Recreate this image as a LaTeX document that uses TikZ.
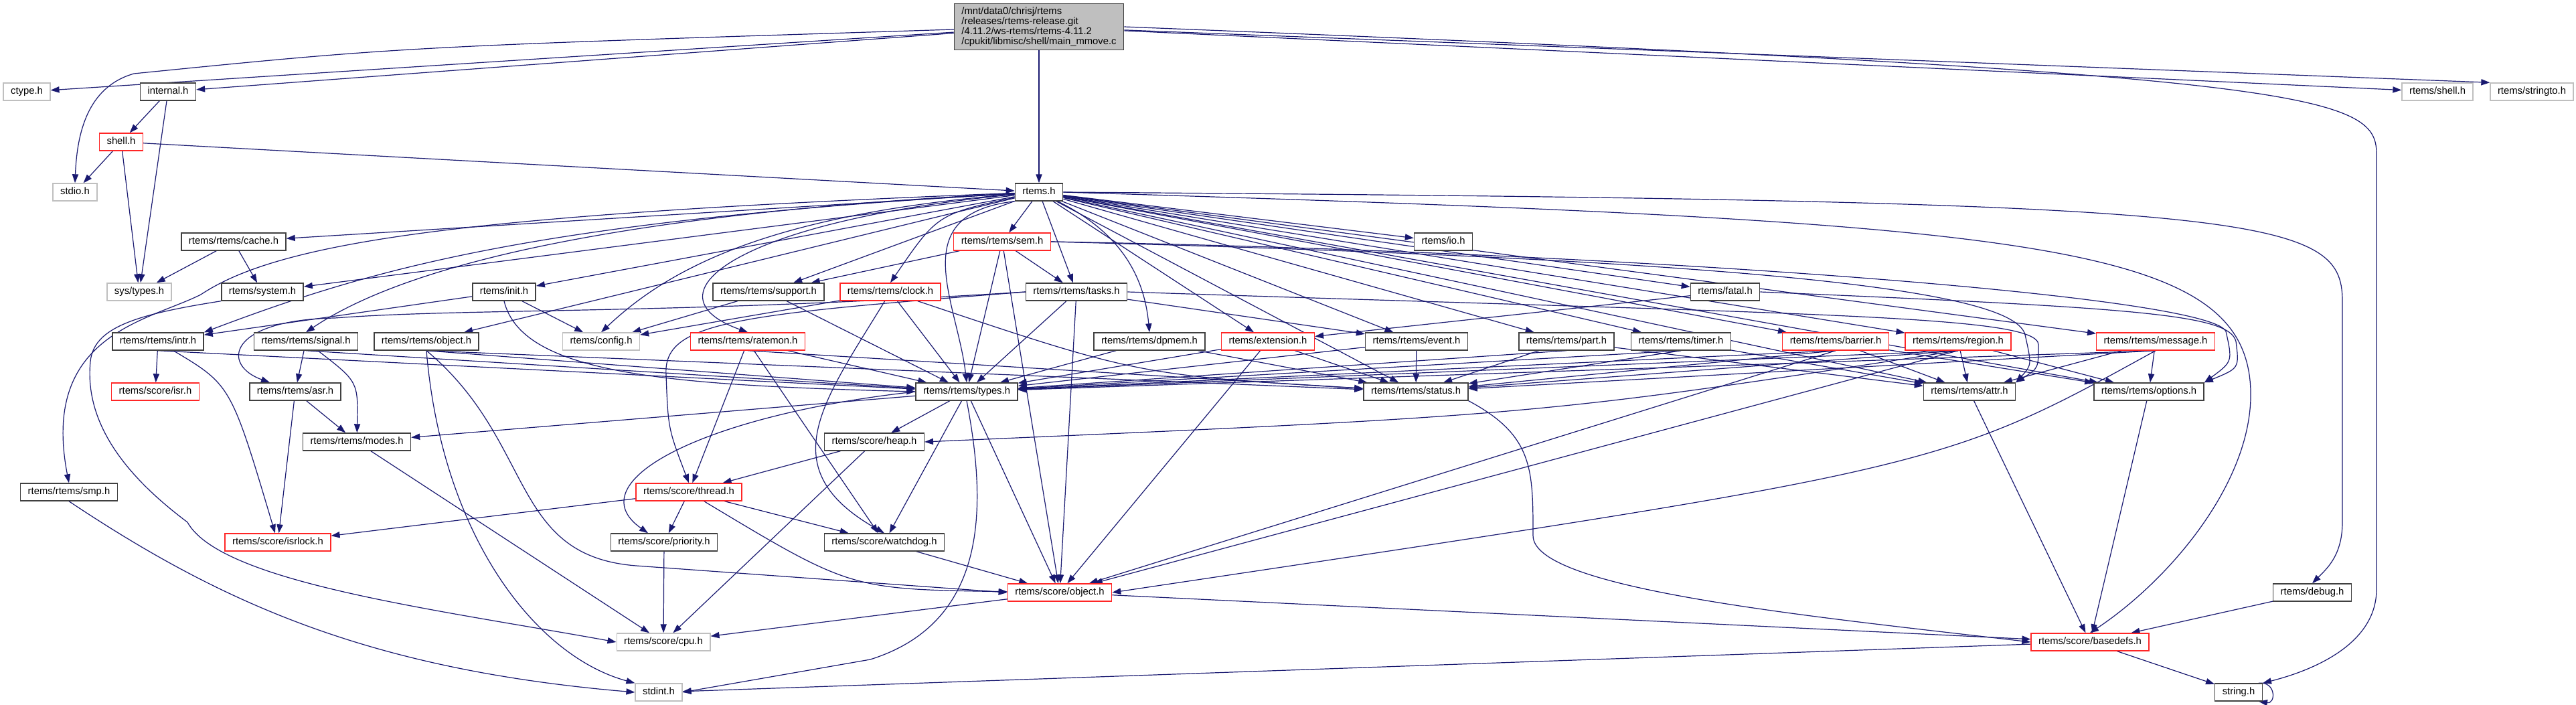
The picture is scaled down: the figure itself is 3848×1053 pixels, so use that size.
\documentclass[tikz,border=0pt]{standalone}
\usepackage{fontspec}
\setmainfont{Liberation Sans}
\usetikzlibrary{arrows.meta,backgrounds}
\definecolor{edgeblue}{HTML}{191970}
\definecolor{boxgray}{HTML}{BFBFBF}
\tikzset{
  hdr/.style={draw=black!75, fill=white, line width=0.7pt, inner xsep=5.5pt, inner ysep=0pt,
    minimum height=13pt, text height=5.4pt, text depth=1.5pt,
    font=\fontsize{7.4pt}{7.4pt}\selectfont},
  hdrred/.style={hdr, draw=red!85},
  hdrgray/.style={hdr, draw=boxgray},
  inc/.style={draw=edgeblue, line width=0.6pt, -{Triangle[length=6.5pt,width=4.6pt]}}
}
\begin{document}
\begin{tikzpicture}[x=0.5pt,y=-0.5pt]
\useasboundingbox (0,0) rectangle (3848,1053);
\node[hdr, fill=boxgray, align=left, text height=, text depth=, minimum width=124pt, minimum height=34.5pt] (main) at (1552,40) {/mnt/data0/chrisj/rtems\\/releases/rtems-release.git\\/4.11.2/ws-rtems/rtems-4.11.2\\/cpukit/libmisc/shell/main\_mmove.c};
\node[hdrgray] (ctype) at (40,137) {ctype.h};
\node[hdr] (internal) at (251,137) {internal.h};
\node[hdrgray] (shellh) at (3641,137) {rtems/shell.h};
\node[hdrgray] (stringto) at (3782,137) {rtems/stringto.h};
\node[hdrred] (shell) at (181,212) {shell.h};
\node[hdrgray] (stdio) at (112,287) {stdio.h};
\node[hdr] (rtems) at (1552,287) {rtems.h};
\node[hdr] (cache) at (349,361) {rtems/rtems/cache.h};
\node[hdrred] (sem) at (1497,361) {rtems/rtems/sem.h};
\node[hdr] (io) at (2156,361) {rtems/io.h};
\node[hdrgray] (systypes) at (208,436) {sys/types.h};
\node[hdr] (system) at (392,436) {rtems/system.h};
\node[hdr] (init) at (753,436) {rtems/init.h};
\node[hdr] (support) at (1148,436) {rtems/rtems/support.h};
\node[hdrred] (clock) at (1330,436) {rtems/rtems/clock.h};
\node[hdr] (tasks) at (1608,436) {rtems/rtems/tasks.h};
\node[hdr] (fatal) at (2577,436) {rtems/fatal.h};
\node[hdr] (intr) at (236,510) {rtems/rtems/intr.h};
\node[hdr] (signal) at (457,510) {rtems/rtems/signal.h};
\node[hdr] (objectr) at (637,510) {rtems/rtems/object.h};
\node[hdrgray] (config) at (898,510) {rtems/config.h};
\node[hdrred] (ratemon) at (1117,510) {rtems/rtems/ratemon.h};
\node[hdr] (dpmem) at (1717,510) {rtems/rtems/dpmem.h};
\node[hdrred] (extension) at (1894,510) {rtems/extension.h};
\node[hdr] (event) at (2116,510) {rtems/rtems/event.h};
\node[hdr] (part) at (2340,510) {rtems/rtems/part.h};
\node[hdr] (timer) at (2511,510) {rtems/rtems/timer.h};
\node[hdrred] (barrier) at (2742,510) {rtems/rtems/barrier.h};
\node[hdrred] (region) at (2925,510) {rtems/rtems/region.h};
\node[hdrred] (message) at (3220,510) {rtems/rtems/message.h};
\node[hdrred] (isr) at (232,585) {rtems/score/isr.h};
\node[hdr] (asr) at (441,585) {rtems/rtems/asr.h};
\node[hdr] (types) at (1444,585) {rtems/rtems/types.h};
\node[hdr] (status) at (2115,585) {rtems/rtems/status.h};
\node[hdr] (attr) at (2942,585) {rtems/rtems/attr.h};
\node[hdr] (options) at (3210,585) {rtems/rtems/options.h};
\node[hdr] (modes) at (533,660) {rtems/rtems/modes.h};
\node[hdr] (heap) at (1306,660) {rtems/score/heap.h};
\node[hdr] (smp) at (103,735) {rtems/rtems/smp.h};
\node[hdrred] (thread) at (1029,735) {rtems/score/thread.h};
\node[hdrred] (isrlock) at (415,810) {rtems/score/isrlock.h};
\node[hdr] (priority) at (992,810) {rtems/score/priority.h};
\node[hdr] (watchdog) at (1321,810) {rtems/score/watchdog.h};
\node[hdrred] (objects) at (1583,885) {rtems/score/object.h};
\node[hdr] (debug) at (3454,885) {rtems/debug.h};
\node[hdrgray] (cpu) at (991,959) {rtems/score/cpu.h};
\node[hdrred] (basedefs) at (3122,959) {rtems/score/basedefs.h};
\node[hdrgray] (stdint) at (984,1034) {stdint.h};
\node[hdr] (stringh) at (3344,1034) {string.h};
\begin{scope}[on background layer]
\draw[inc] (main) -- (ctype);
\draw[inc] (main) -- (internal);
\draw[inc] (main) .. controls (600,70) .. (200,110) .. controls (130,130) and (115,200) .. (stdio.north);
\draw[inc] (main) -- (rtems);
\draw[inc] (main) -- (shellh);
\draw[inc] (main) -- (stringto.north west);
\draw[inc] (main.east) .. controls (3450,110) and (3550,140) .. (3550,230) -- (3550,880) .. controls (3550,960) and (3460,1000) .. (stringh.north east);
\draw[inc] (internal) -- (shell);
\draw[inc] (internal) -- (systypes);
\draw[inc] (shell) -- (stdio);
\draw[inc] (shell) -- (systypes);
\draw[inc] (shell) -- (rtems);
\draw[inc] (rtems) -- (cache);
\draw[inc] (rtems) -- (sem);
\draw[inc] (rtems) -- (io);
\draw[inc] (rtems) -- (system);
\draw[inc] (rtems) -- (init);
\draw[inc] (rtems) -- (support);
\draw[inc] (rtems) .. controls (1400,320) .. (clock.north);
\draw[inc] (rtems) -- (tasks);
\draw[inc] (rtems) -- (fatal);
\draw[inc] (rtems) .. controls (800,330) and (560,400) .. (intr.north east);
\draw[inc] (rtems) .. controls (900,320) and (600,400) .. (signal.north);
\draw[inc] (rtems) -- (objectr);
\draw[inc] (rtems) .. controls (1150,320) and (1000,400) .. (config.north);
\draw[inc] (rtems) .. controls (1100,330) and (960,440) .. (ratemon.north);
\draw[inc] (rtems) .. controls (1680,350) and (1710,420) .. (dpmem.north);
\draw[inc] (rtems) -- (extension);
\draw[inc] (rtems) -- (event);
\draw[inc] (rtems) -- (part);
\draw[inc] (rtems) -- (timer);
\draw[inc] (rtems) -- (barrier);
\draw[inc] (rtems) -- (region);
\draw[inc] (rtems) -- (message);
\draw[inc] (rtems) .. controls (700,320) and (420,360) .. (300,440) .. controls (220,480) and (60,500) .. (smp.north);
\draw[inc] (rtems.south west) .. controls (1350,320) and (1430,450) .. (types.north);
\draw[inc] (rtems) -- (status);
\draw[inc] (rtems) -- (attr);
\draw[inc] (rtems) -- (options);
\draw[inc] (rtems.east) .. controls (3380,300) and (3499,320) .. (3499,450) -- (3499,780) .. controls (3499,830) and (3475,850) .. (debug.north);
\draw[inc] (rtems.east) .. controls (3000,330) and (3330,360) .. (3360,560) .. controls (3380,700) and (3250,860) .. (basedefs.north);
\draw[inc] (cache) -- (systypes);
\draw[inc] (cache) -- (system);
\draw[inc] (system.south west) .. controls (200,470) and (140,490) .. (135,540) .. controls (125,640) and (200,720) .. (280,780) .. controls (330,870) and (650,910) .. (cpu.west);
\draw[inc] (init) -- (config);
\draw[inc] (init) -- (intr);
\draw[inc] (init.south) .. controls (780,560) and (1000,575) .. (types.west);
\draw[inc] (support) -- (config);
\draw[inc] (support) -- (types);
\draw[inc] (sem) -- (support);
\draw[inc] (sem) -- (tasks);
\draw[inc] (sem) -- (types);
\draw[inc] (sem) -- (objects);
\draw[inc] (sem.east) .. controls (2700,390) and (3010,440) .. (3025,500) .. controls (3035,545) .. (attr.north east);
\draw[inc] (sem.east) .. controls (2400,375) and (3300,440) .. (3325,495) .. controls (3335,540) .. (options.north east);
\draw[inc] (clock) -- (config);
\draw[inc] (clock) -- (types);
\draw[inc] (clock) .. controls (1700,560) .. (status);
\draw[inc] (clock) .. controls (1230,600) and (1150,700) .. (watchdog.north);
\draw[inc] (tasks) -- (types);
\draw[inc] (tasks) -- (objects);
\draw[inc] (tasks) -- (event);
\draw[inc] (tasks.west) .. controls (1000,470) and (700,460) .. (500,475) .. controls (340,478) and (330,545) .. (asr);
\draw[inc] (tasks.west) .. controls (1100,470) and (990,480) .. (995,560) .. controls (998,640) .. (thread.north);
\draw[inc] (tasks.east) .. controls (2700,470) and (3045,470) .. (3045,515) .. controls (3045,550) .. (attr.north east);
\draw[inc] (fatal) -- (extension);
\draw[inc] (fatal.east) .. controls (3200,460) and (3330,470) .. (3340,510) .. controls (3345,550) .. (options.north east);
\draw[inc] (intr) -- (isr);
\draw[inc] (intr) .. controls (345,575) .. (isrlock);
\draw[inc] (intr.south) -- (types);
\draw[inc] (signal) -- (asr);
\draw[inc] (signal) .. controls (535,570) .. (modes);
\draw[inc] (signal.south) -- (types);
\draw[inc] (objectr.south) -- (types);
\draw[inc] (objectr.south) -- (status);
\draw[inc] (objectr.south) .. controls (800,660) and (760,830) .. (950,845) -- (objects.west);
\draw[inc] (objectr.south) .. controls (660,800) and (800,980) .. (stdint.north west);
\draw[inc] (ratemon) -- (thread);
\draw[inc] (ratemon) -- (watchdog);
\draw[inc] (ratemon) -- (types);
\draw[inc] (ratemon.south) -- (status);
\draw[inc] (dpmem) -- (types);
\draw[inc] (dpmem) -- (status);
\draw[inc] (extension) -- (types);
\draw[inc] (extension) -- (status);
\draw[inc] (extension) -- (objects);
\draw[inc] (event) -- (types);
\draw[inc] (event) -- (status);
\draw[inc] (part.south) -- (types);
\draw[inc] (part) -- (status);
\draw[inc] (part) -- (attr);
\draw[inc] (timer.south) -- (types);
\draw[inc] (timer.south) -- (status);
\draw[inc] (timer) -- (attr);
\draw[inc] (barrier.south) -- (types);
\draw[inc] (barrier.south) -- (status);
\draw[inc] (barrier) -- (attr);
\draw[inc] (barrier) -- (options);
\draw[inc] (barrier.south) -- (objects);
\draw[inc] (region.south) -- (types);
\draw[inc] (region.south) -- (status);
\draw[inc] (region) -- (attr);
\draw[inc] (region) -- (options);
\draw[inc] (region.south) .. controls (2300,620) .. (heap.east);
\draw[inc] (region.south) -- (objects);
\draw[inc] (message.south) -- (types);
\draw[inc] (message.south) -- (status);
\draw[inc] (message) -- (attr);
\draw[inc] (message) -- (options);
\draw[inc] (message.south) .. controls (2900,700) .. (objects.east);
\draw[inc] (smp.south) .. controls (330,900) and (550,1000) .. (stdint.west);
\draw[inc] (types) -- (heap);
\draw[inc] (types) -- (modes);
\draw[inc] (types.west) .. controls (1050,620) and (860,720) .. ([xshift=-12pt]priority.north);
\draw[inc] (types) -- (watchdog);
\draw[inc] (types) -- (objects);
\draw[inc] (types.south) .. controls (1475,760) and (1475,930) .. (1300,985) -- (stdint.east);
\draw[inc] (asr) -- (modes);
\draw[inc] (asr) -- (isrlock);
\draw[inc] (modes) -- (cpu);
\draw[inc] (heap) -- (thread);
\draw[inc] (heap) -- (cpu);
\draw[inc] (thread) -- (priority);
\draw[inc] (thread) -- (watchdog);
\draw[inc] (thread) -- (isrlock);
\draw[inc] (thread) .. controls (1270,880) .. (objects);
\draw[inc] (priority) -- (cpu);
\draw[inc] (watchdog) -- (objects);
\draw[inc] (objects) -- (cpu);
\draw[inc] (objects) -- (basedefs);
\draw[inc] (status.south east) .. controls (2290,650) and (2290,700) .. (2290,800) .. controls (2290,880) and (2700,920) .. (basedefs.west);
\draw[inc] (attr) -- (basedefs);
\draw[inc] (options) -- (basedefs);
\draw[inc] (debug) -- (basedefs);
\draw[inc] (basedefs) -- (stdint);
\draw[inc] (basedefs) -- (stringh);
\draw[inc] ([xshift=-3pt]stringh.north east) .. controls +(26,-3) and +(26,4) .. ([xshift=-3pt]stringh.south east);
\end{scope}
\end{tikzpicture}
\end{document}
